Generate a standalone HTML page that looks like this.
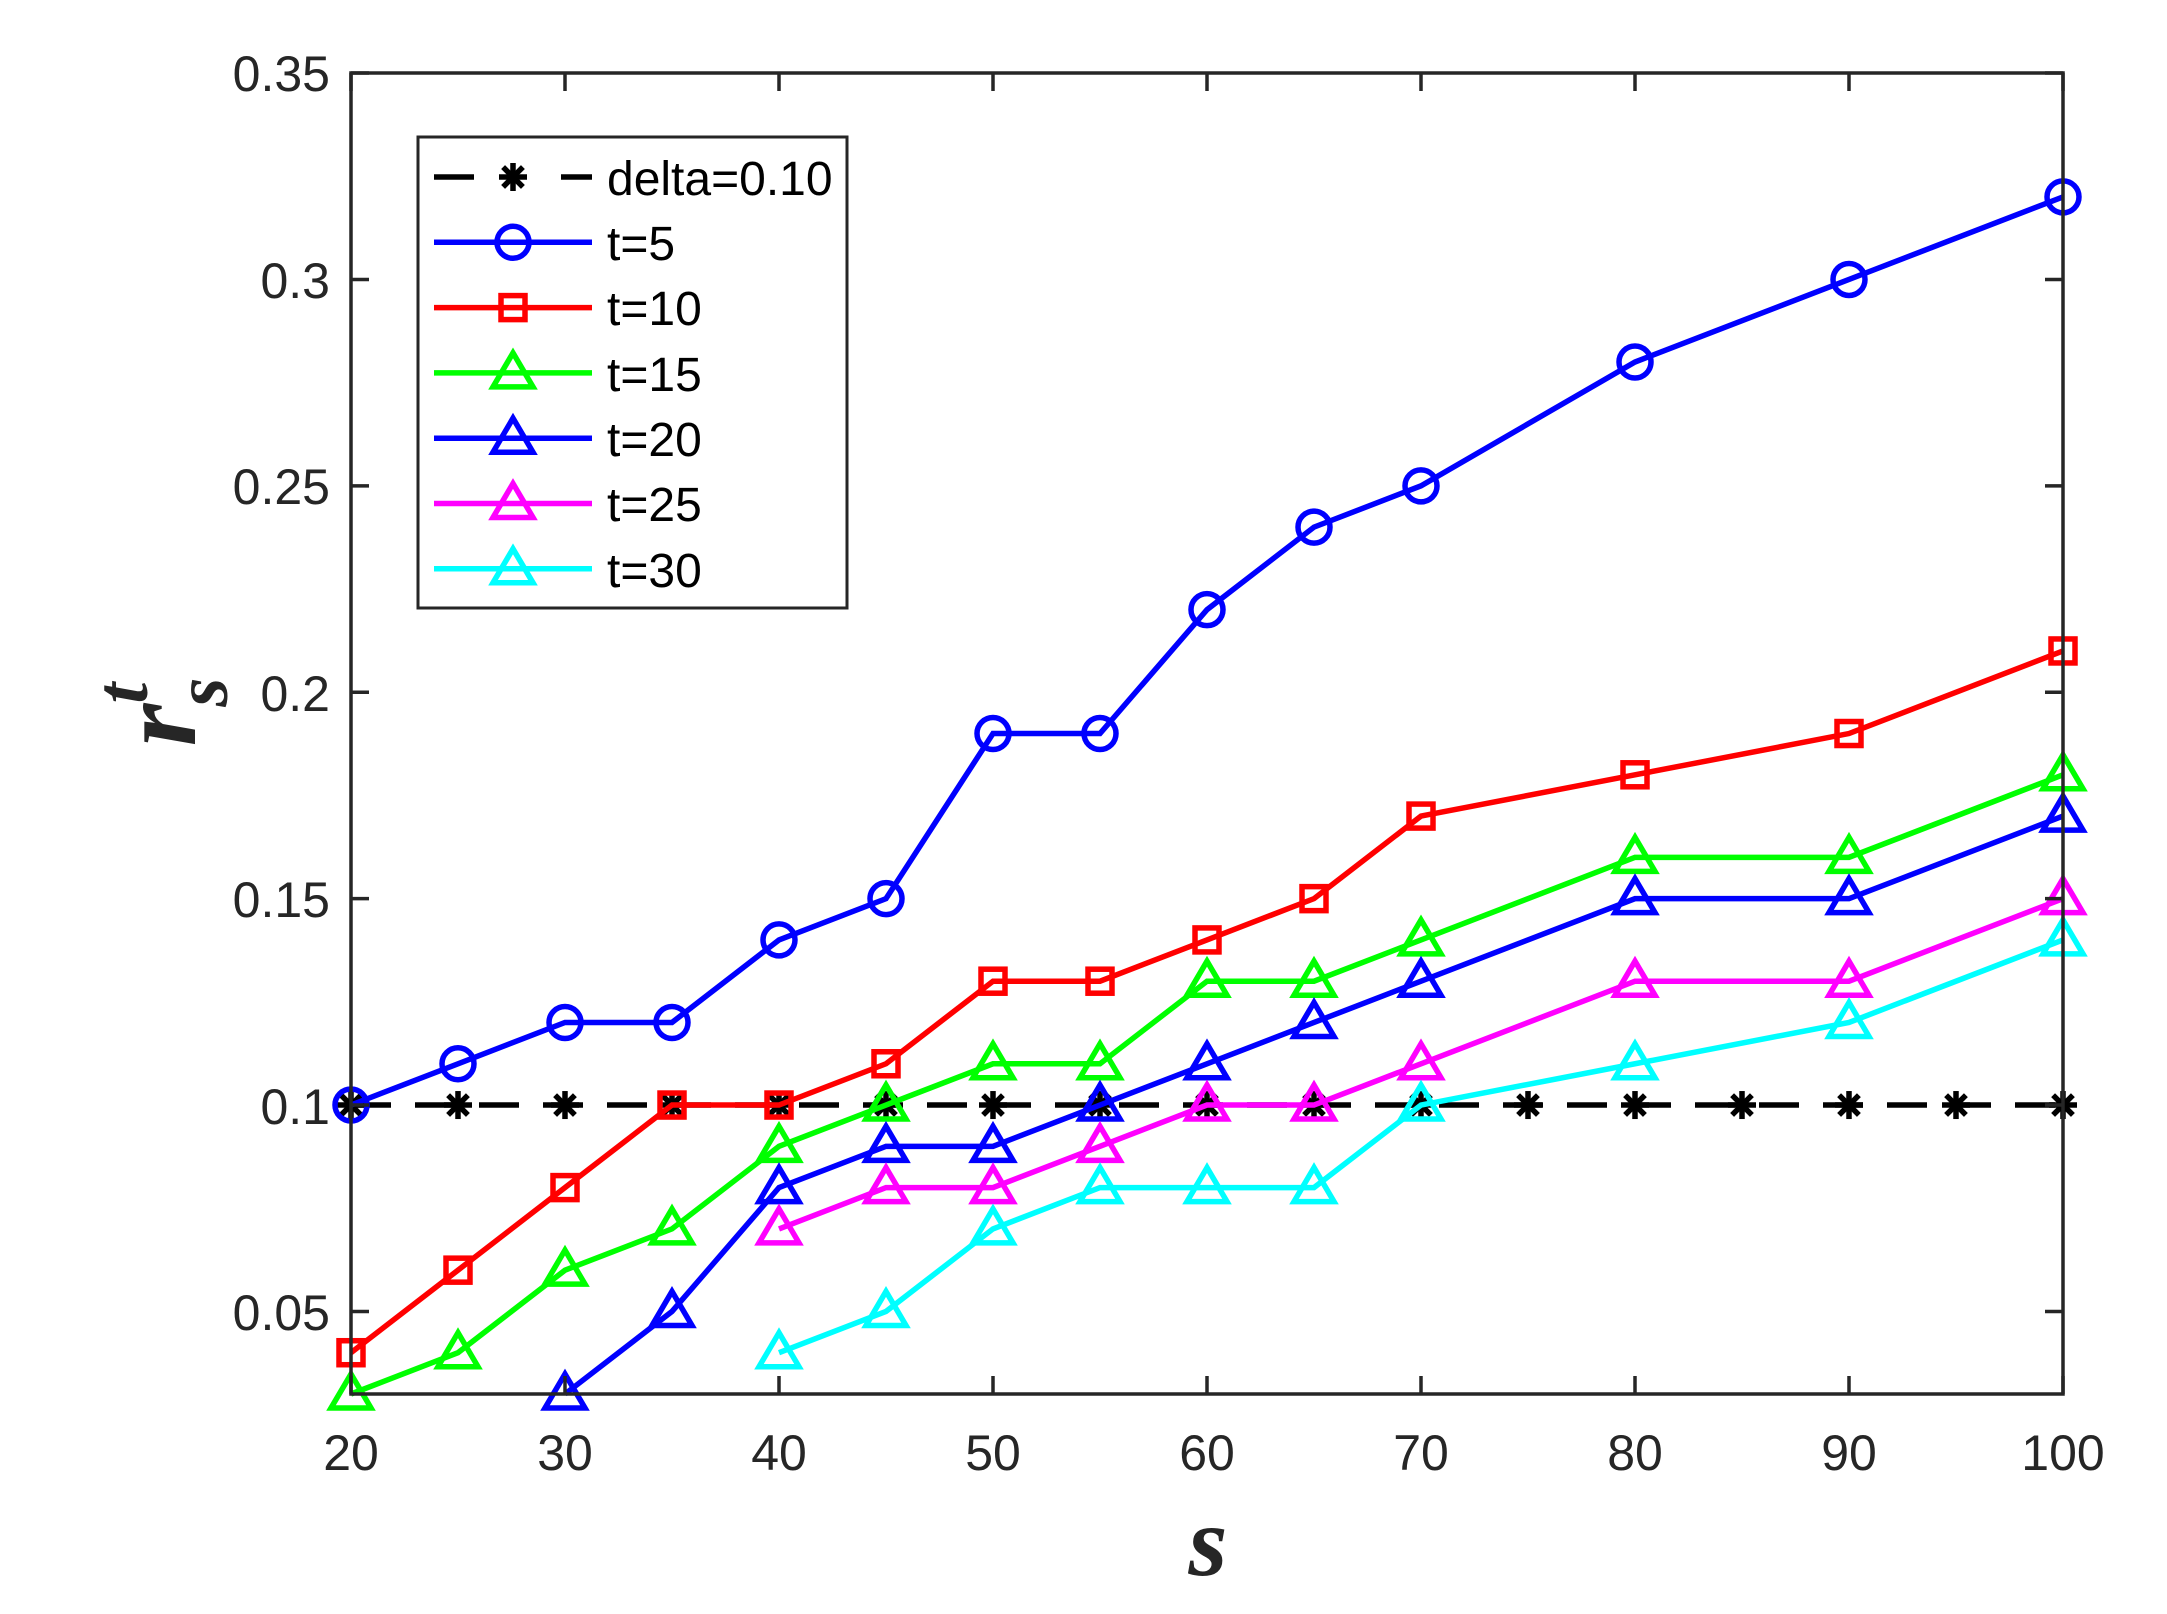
<!DOCTYPE html>
<html><head><meta charset="utf-8"><style>
html,body{margin:0;padding:0;background:#fff}
svg{display:block}
text{font-family:"Liberation Sans",sans-serif;fill:#262626}
text.ser{font-family:"Liberation Serif",serif;font-style:italic;font-weight:bold}
</style></head><body>
<svg id="s" width="2167" height="1614" viewBox="0 0 2167 1614" xmlns="http://www.w3.org/2000/svg">
<rect width="2167" height="1614" fill="#fff"/>
<g id="plot"></g>
<rect x="351" y="73" width="1712" height="1321" fill="none" stroke="#262626" stroke-width="3.5"/>
<g id="ticks" stroke="#262626" stroke-width="3.5"></g>
<g font-size="50" text-anchor="middle">
<text x="351" y="1470">20</text><text x="565" y="1470">30</text><text x="779" y="1470">40</text><text x="993" y="1470">50</text><text x="1207" y="1470">60</text><text x="1421" y="1470">70</text><text x="1635" y="1470">80</text><text x="1849" y="1470">90</text><text x="2063" y="1470">100</text>
</g>
<g font-size="50" text-anchor="end">
<text x="330" y="1330">0.05</text><text x="330" y="1124">0.1</text><text x="330" y="917">0.15</text><text x="330" y="711">0.2</text><text x="330" y="504">0.25</text><text x="330" y="298">0.3</text><text x="330" y="91">0.35</text>
</g>
<text class="ser" x="1208" y="1575" font-size="100" text-anchor="middle">s</text>
<g transform="translate(195,712) rotate(-90)">
<text class="ser" x="0" y="0" font-size="110" text-anchor="middle">r<tspan font-size="75" dy="-48">t</tspan><tspan font-size="75" dx="-24" dy="80">s</tspan></text>
</g>
<rect x="418" y="137" width="429" height="471" fill="#fff" stroke="#262626" stroke-width="3"/>
<g id="leg"></g>
<g font-size="48">
<text x="607" y="195" style="fill:#000">delta=0.10</text>
<text x="607" y="260" style="fill:#000">t=5</text>
<text x="607" y="325" style="fill:#000">t=10</text>
<text x="607" y="391" style="fill:#000">t=15</text>
<text x="607" y="456" style="fill:#000">t=20</text>
<text x="607" y="521" style="fill:#000">t=25</text>
<text x="607" y="587" style="fill:#000">t=30</text>
</g>
</svg>
<script>
var NS="http://www.w3.org/2000/svg";
function X(s){return 351+(s-20)*21.4;}
function Y(v){return 1394-(v-0.03)*4128;}
function el(p,t,a){var e=document.createElementNS(NS,t);for(var k in a)e.setAttribute(k,a[k]);p.appendChild(e);return e;}
var T=document.getElementById('ticks');
for(var s=20;s<=100;s+=10){el(T,'line',{x1:X(s),y1:1394,x2:X(s),y2:1376});el(T,'line',{x1:X(s),y1:73,x2:X(s),y2:91});}
for(var v=0.05;v<=0.351;v+=0.05){el(T,'line',{x1:351,y1:Y(v),x2:369,y2:Y(v)});el(T,'line',{x1:2063,y1:Y(v),x2:2045,y2:Y(v)});}
var W=5.5;
function marker(g,m,x,y,c){
 if(m=='o')el(g,'circle',{cx:x,cy:y,r:16,fill:'none',stroke:c,'stroke-width':W});
 else if(m=='s')el(g,'rect',{x:x-12,y:y-12,width:24,height:24,fill:'none',stroke:c,'stroke-width':W});
 else if(m=='^')el(g,'polygon',{points:(x)+','+(y-20)+' '+(x-20)+','+(y+14)+' '+(x+20)+','+(y+14),fill:'none',stroke:c,'stroke-width':W});
 else if(m=='*'){var r=14;for(var i=0;i<4;i++){var a=i*Math.PI/4;el(g,'line',{x1:x-r*Math.cos(a),y1:y-r*Math.sin(a),x2:x+r*Math.cos(a),y2:y+r*Math.sin(a),stroke:c,'stroke-width':5.5});}}
}
var S=[
 {c:'#000',m:'*',dash:'40 24',d:[[20,.1],[25,.1],[30,.1],[35,.1],[40,.1],[45,.1],[50,.1],[55,.1],[60,.1],[65,.1],[70,.1],[75,.1],[80,.1],[85,.1],[90,.1],[95,.1],[100,.1]]},
 {c:'#0000ff',m:'o',d:[[20,.10],[25,.11],[30,.12],[35,.12],[40,.14],[45,.15],[50,.19],[55,.19],[60,.22],[65,.24],[70,.25],[80,.28],[90,.30],[100,.32]]},
 {c:'#ff0000',m:'s',d:[[20,.04],[25,.06],[30,.08],[35,.10],[40,.10],[45,.11],[50,.13],[55,.13],[60,.14],[65,.15],[70,.17],[80,.18],[90,.19],[100,.21]]},
 {c:'#00ff00',m:'^',d:[[20,.03],[25,.04],[30,.06],[35,.07],[40,.09],[45,.10],[50,.11],[55,.11],[60,.13],[65,.13],[70,.14],[80,.16],[90,.16],[100,.18]]},
 {c:'#0000ff',m:'^',d:[[30,.03],[35,.05],[40,.08],[45,.09],[50,.09],[55,.10],[60,.11],[65,.12],[70,.13],[80,.15],[90,.15],[100,.17]]},
 {c:'#ff00ff',m:'^',d:[[40,.07],[45,.08],[50,.08],[55,.09],[60,.10],[65,.10],[70,.11],[80,.13],[90,.13],[100,.15]]},
 {c:'#00ffff',m:'^',d:[[40,.04],[45,.05],[50,.07],[55,.08],[60,.08],[65,.08],[70,.10],[80,.11],[90,.12],[100,.14]]}
];
var P=document.getElementById('plot'),L=document.getElementById('leg');
S.forEach(function(o,i){
 var pts=o.d.map(function(p){return X(p[0])+','+Y(p[1]);}).join(' ');
 var a={points:pts,fill:'none',stroke:o.c,'stroke-width':W};if(o.dash)a['stroke-dasharray']=o.dash;
 el(P,'polyline',a);
 o.d.forEach(function(p){marker(P,o.m,X(p[0]),Y(p[1]),o.c);});
 var ly=177+i*65.3;
 if(o.dash){el(L,'line',{x1:434,y1:ly,x2:474,y2:ly,stroke:o.c,'stroke-width':W});el(L,'line',{x1:561,y1:ly,x2:592,y2:ly,stroke:o.c,'stroke-width':W});}
 else el(L,'line',{x1:434,y1:ly,x2:592,y2:ly,stroke:o.c,'stroke-width':W});
 marker(L,o.m,513,ly,o.c);
});
</script>
</body></html>
